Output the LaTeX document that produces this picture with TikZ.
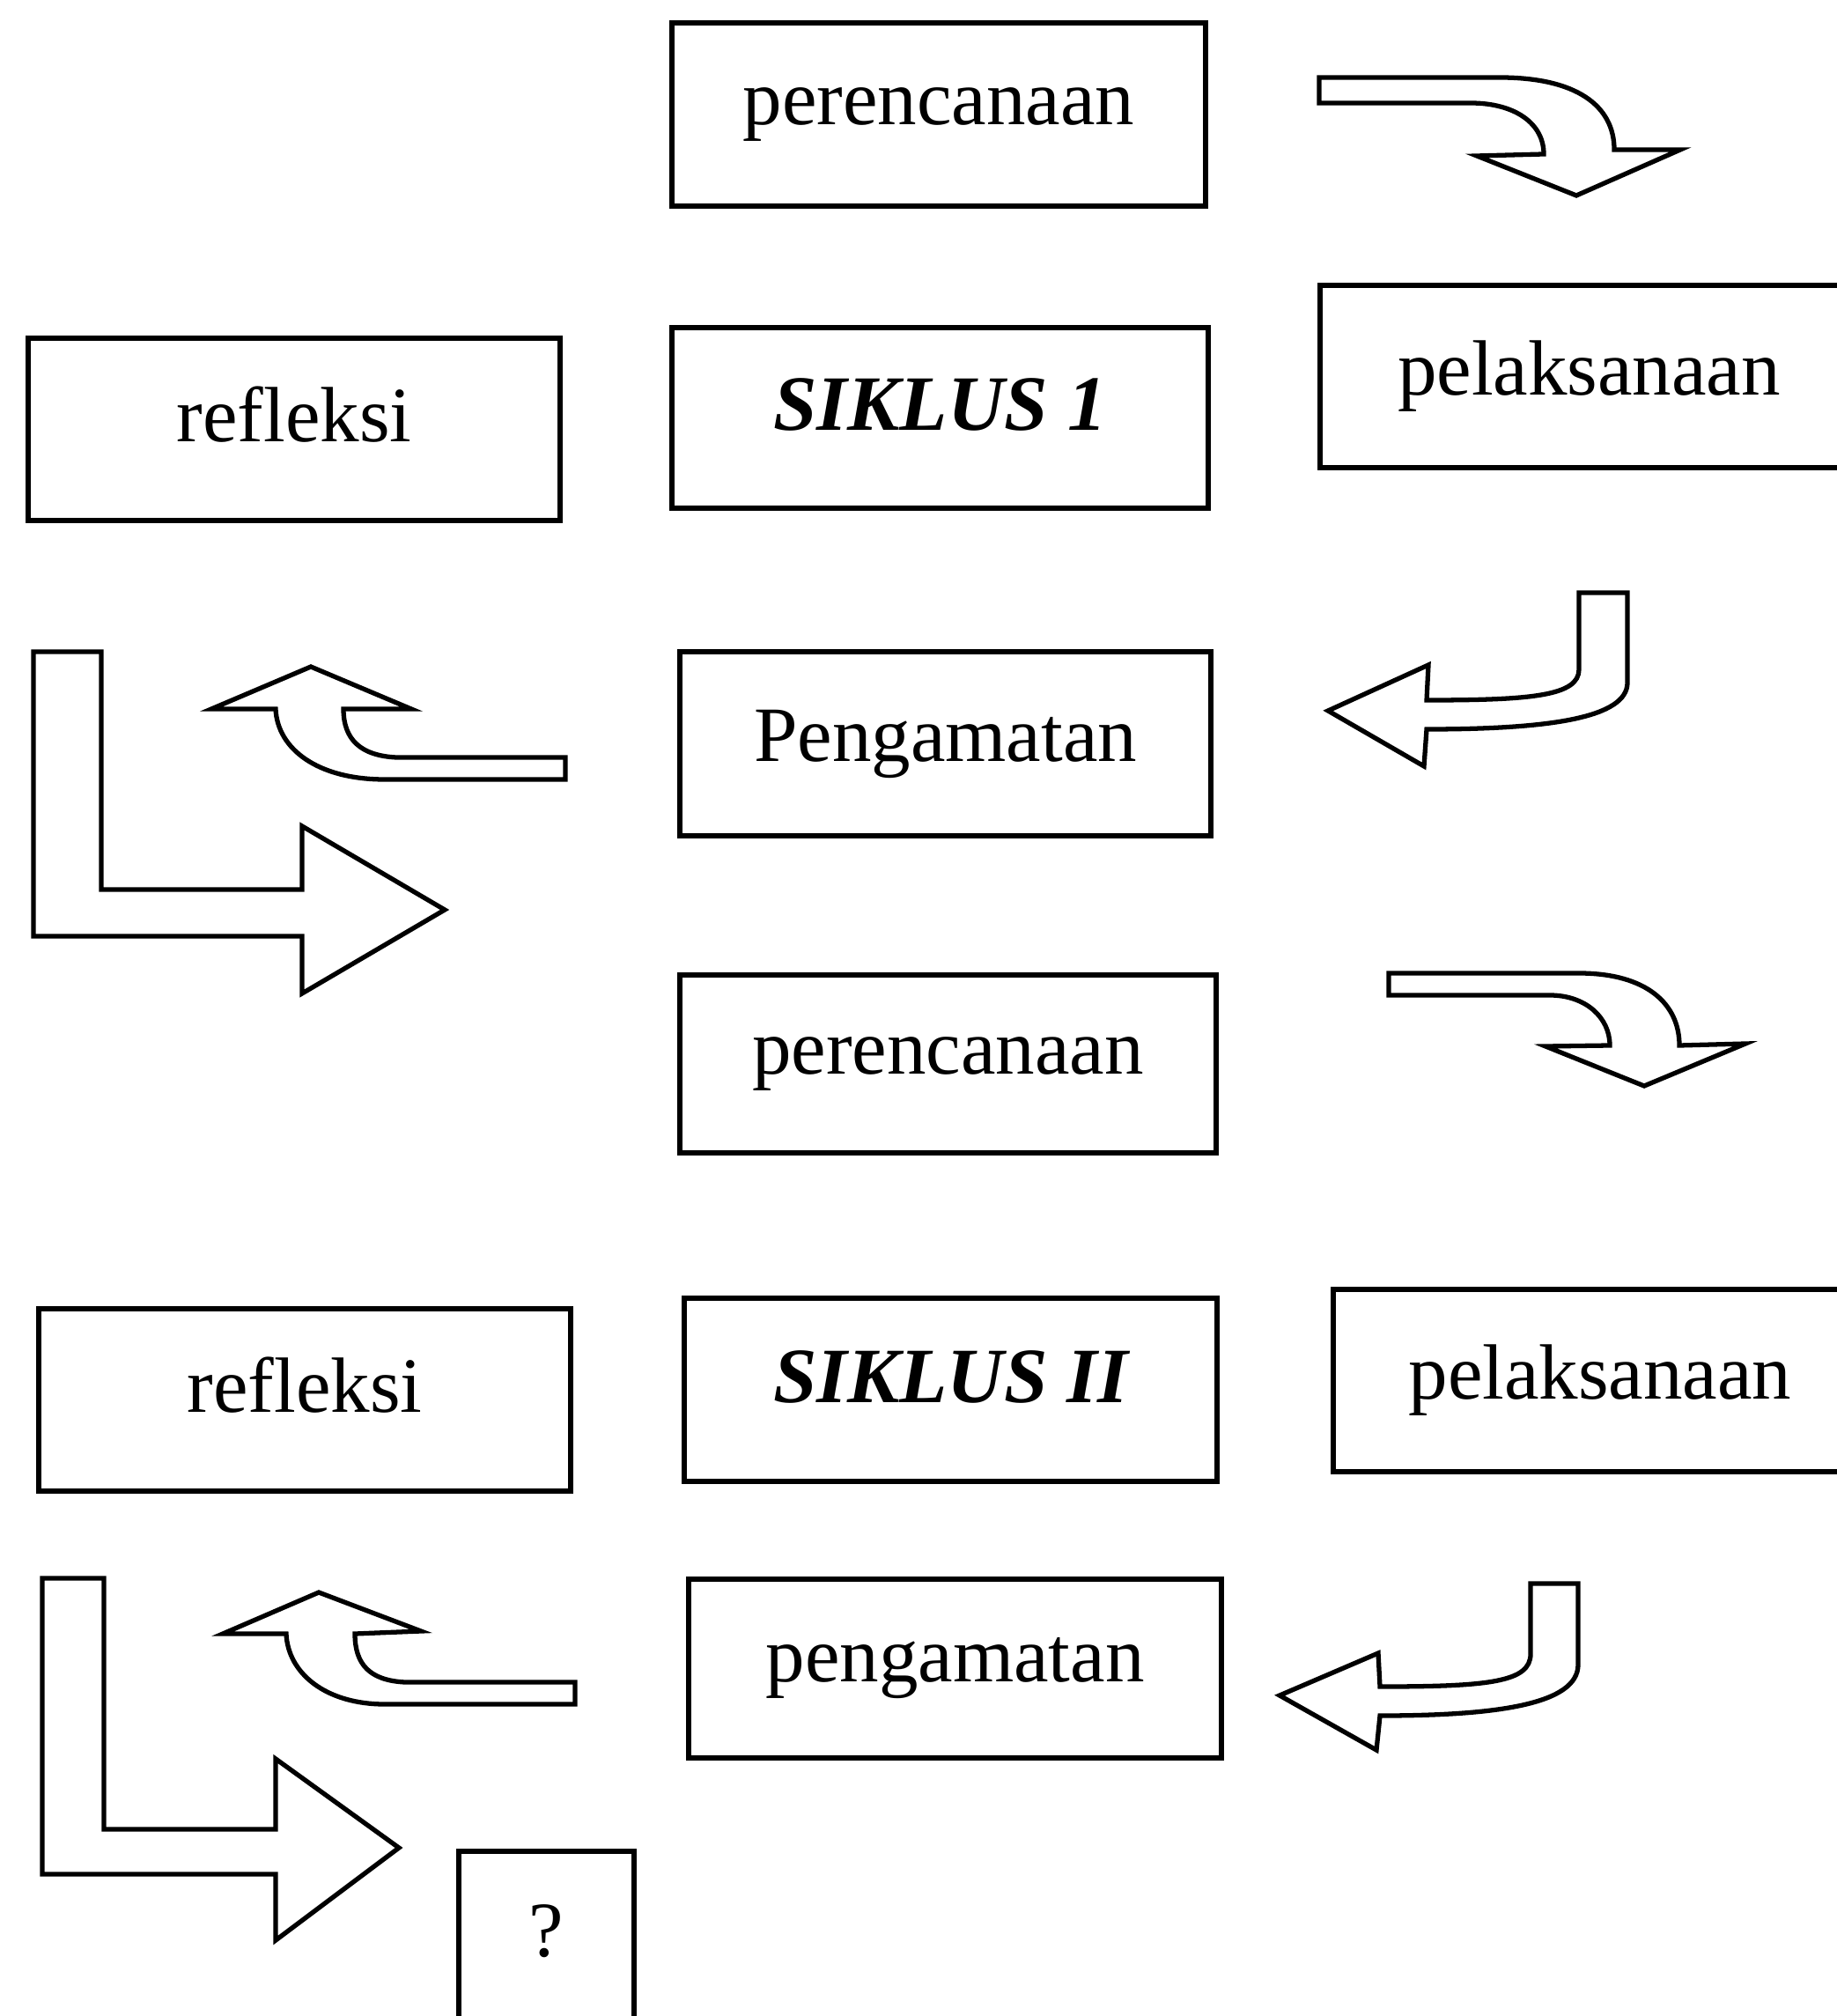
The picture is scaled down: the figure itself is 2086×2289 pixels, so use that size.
\documentclass[tikz,border=0pt]{standalone}
\usepackage{fontspec}
\setmainfont{Liberation Serif}
\begin{document}
\begin{tikzpicture}[x=0.01cm,y=-0.01cm,
  box/.style={draw, line width=1.6pt, inner sep=0pt, outer sep=0pt,
    font=\fontsize{25.3}{30}\selectfont},
  cyclebox/.style={box, font=\fontsize{25.3}{30}\selectfont\bfseries\itshape, text depth=0.3cm},
  raisedbox/.style={box, text depth=0.35cm},
  bigarrow/.style={draw, line width=1.5pt, line join=miter, fill=white}]
\useasboundingbox (0,0) rectangle (2086,2289);
\clip (0,0) rectangle (2086,2289);

% boxes
\node[box, minimum width=6.06cm, minimum height=2.08cm] (plan1) at (1066,130) {perencanaan};
\node[cyclebox, minimum width=6.09cm, minimum height=2.05cm] (cyc1) at (1067.5,474.5) {SIKLUS 1};
\node[raisedbox, minimum width=6.04cm, minimum height=2.07cm] (ref1) at (334,487.5) {refleksi};
\node[box, minimum width=6.11cm, minimum height=2.07cm] (act1) at (1804.5,427.5) {pelaksanaan};
\node[box, minimum width=6.03cm, minimum height=2.09cm] (obs1) at (1073.5,844.5) {Pengamatan};
\node[box, minimum width=6.09cm, minimum height=2.02cm] (plan2) at (1076.5,1208) {perencanaan};
\node[raisedbox, minimum width=6.04cm, minimum height=2.07cm] (ref2) at (346,1589.5) {refleksi};
\node[cyclebox, minimum width=6.05cm, minimum height=2.08cm] (cyc2) at (1079.5,1578) {SIKLUS II};
\node[box, minimum width=6.06cm, minimum height=2.07cm] (act2) at (1817,1567.5) {pelaksanaan};
\node[box, minimum width=6.05cm, minimum height=2.03cm] (obs2) at (1084.5,1894.5) {pengamatan};
\node[box, text depth=0.3cm, minimum width=1.99cm, minimum height=2.10cm] (next) at (620.5,2207) {?};

% arrow: perencanaan -> pelaksanaan (cycle 1)
\path[bigarrow] (1498,88) -- (1703,88) .. controls (1790,88) and (1833,120) .. (1833,170)
  -- (1908,170) -- (1790,222) -- (1677,177) -- (1753,175)
  .. controls (1753,140) and (1720,117) .. (1670,117) -- (1498,117) -- cycle;
% arrow: pelaksanaan -> pengamatan (cycle 1)
\path[bigarrow] (1793,673) -- (1848,673) -- (1848,775) .. controls (1848,815) and (1760,828) .. (1620,828)
  -- (1617,870) -- (1508,807) -- (1622,755) -- (1620,795)
  .. controls (1740,795) and (1793,790) .. (1793,760) -- cycle;
% arrow: pengamatan -> refleksi (cycle 1)
\path[bigarrow] (642,860) -- (450,860) .. controls (410,858) and (390,840) .. (390,805)
  -- (467,805) -- (353,757) -- (240,805) -- (313,805)
  .. controls (315,850) and (360,885) .. (437,885) -- (642,885) -- cycle;
% arrow: refleksi -> perencanaan 2 (L shape)
\path[bigarrow] (38,740) -- (115,740) -- (115,1010) -- (343,1010) -- (343,938) -- (505,1033)
  -- (343,1128) -- (343,1063) -- (38,1063) -- cycle;

% arrow: perencanaan -> pelaksanaan (cycle 2)
\path[bigarrow] (1577,1105) -- (1793,1105) .. controls (1870,1105) and (1907,1140) .. (1907,1187)
  -- (1982,1185) -- (1867,1233) -- (1755,1188) -- (1828,1187)
  .. controls (1828,1155) and (1800,1130) .. (1760,1130) -- (1577,1130) -- cycle;
% arrow: pelaksanaan -> pengamatan (cycle 2)
\path[bigarrow] (1738,1798) -- (1792,1798) -- (1792,1890) .. controls (1792,1935) and (1700,1948) .. (1567,1948)
  -- (1563,1987) -- (1453,1925) -- (1565,1877) -- (1567,1915)
  .. controls (1690,1915) and (1738,1910) .. (1738,1878) -- cycle;
% arrow: pengamatan -> refleksi (cycle 2)
\path[bigarrow] (653,1910) -- (460,1910) .. controls (420,1908) and (403,1890) .. (403,1855)
  -- (478,1852) -- (362,1808) -- (253,1855) -- (325,1855)
  .. controls (327,1900) and (370,1935) .. (437,1935) -- (653,1935) -- cycle;
% arrow: refleksi -> ? (L shape)
\path[bigarrow] (48,1792) -- (118,1792) -- (118,2077) -- (313,2077) -- (313,1997) -- (453,2098)
  -- (313,2203) -- (313,2128) -- (48,2128) -- cycle;
\end{tikzpicture}
\end{document}
